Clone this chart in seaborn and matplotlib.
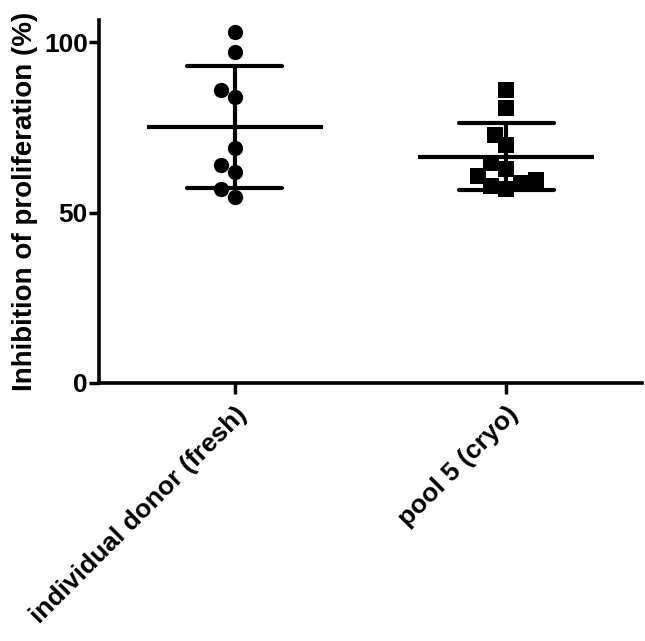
import numpy as np
import pandas as pd

import matplotlib
matplotlib.use("Agg")
import matplotlib.pyplot as plt
import seaborn as sns

# values
groups = ["individual donor (fresh)", "pool 5 (cryo)"]
fresh_values = [103.0, 97.0, 85.9, 83.8, 69.0, 63.9, 61.8, 56.9, 54.6]
cryo_values = [85.9, 80.8, 72.9, 69.8, 64.4, 62.8, 60.8, 59.7, 58.7, 57.9, 56.8]
y_ticks = [0, 50, 100]
y_label = "Inhibition of proliferation (%)"

df = pd.DataFrame({
    "group": [groups[0]] * len(fresh_values) + [groups[1]] * len(cryo_values),
    "value": fresh_values + cryo_values,
})

sns.set_style("ticks", {"axes.edgecolor": "black", "text.color": "black",
                        "axes.labelcolor": "black", "xtick.color": "black",
                        "ytick.color": "black"})
plt.rcParams["font.family"] = ["Liberation Sans", "DejaVu Sans"]
plt.rcParams["font.weight"] = "bold"

fig = plt.figure(figsize=(6.45, 6.41), dpi=100)
ax = fig.add_axes([99 / 645, 258 / 641, 543 / 645, 363 / 641])

# individual points
markers = ["o", "s"]
for grp, mk in zip(groups, markers):
    sns.swarmplot(data=df[df["group"] == grp], x="group", y="value", order=groups,
                  marker=mk, size=11, color="black", linewidth=0, ax=ax)

# mean line with SD error bars
sns.pointplot(data=df, x="group", y="value", order=groups, errorbar="sd",
              capsize=0.35, color="black", linestyle="none", marker="_",
              markersize=127, markeredgewidth=3.0,
              err_kws={"linewidth": 3.0, "solid_capstyle": "round"}, ax=ax)

ax.set_xlim(-0.5, 1.5)
ax.set_ylim(0, 106.5)
ax.set_yticks(y_ticks)
ax.set_xticks(range(len(groups)))
ax.set_xticklabels(groups, rotation=45, ha="right", rotation_mode="anchor",
                   fontsize=19, fontweight="bold")
ax.tick_params(axis="y", labelsize=19, width=2.5, length=7, pad=1)
ax.tick_params(axis="x", width=2.5, length=8, pad=6)
for lab in ax.get_yticklabels():
    lab.set_fontweight("bold")
ax.set_xlabel("")
ax.set_ylabel(y_label, fontsize=20, fontweight="bold", labelpad=4)

sns.despine(ax=ax)
for side in ["left", "bottom"]:
    ax.spines[side].set_linewidth(2.6)

fig.savefig("out.png", dpi=100)
